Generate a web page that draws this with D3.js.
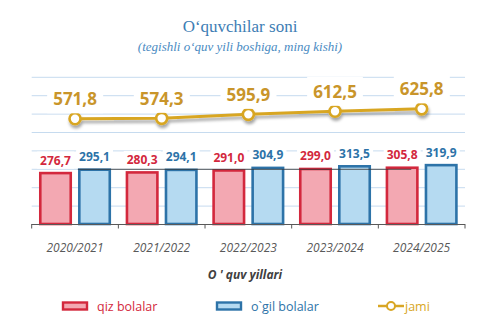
<!DOCTYPE html>
<html>
<head>
<meta charset="utf-8">
<script src="https://cdn.jsdelivr.net/npm/d3@7"></script>
<style>
  html, body { margin: 0; padding: 0; background: #fff; }
  svg { display: block; }
</style>
</head>
<body>
<script>
// School years and pupil counts (thousand people, at the start of the year)
const years = ["2020/2021", "2021/2022", "2022/2023", "2023/2024", "2024/2025"];
const girls = [276.7, 280.3, 291.0, 299.0, 305.8];
const boys = [295.1, 294.1, 304.9, 313.5, 319.9];
const total = [571.8, 574.3, 595.9, 612.5, 625.8];
const gridValues = [100, 200, 300, 400, 500, 600, 700, 800];

const W = 495, H = 330;
const red = "#d3283d", redFill = "#f3a8b2";
const blue = "#2d73a8", blueFill = "#b5daf1";
const gold = "#d8a624", goldText = "#c9952a";
const fmt = v => v.toFixed(1).replace(".", ",");

const svg = d3.select("body").append("svg").attr("width", W).attr("height", H);

const defs = svg.append("defs");
const shadow = defs.append("filter").attr("id", "lineShadow")
  .attr("x", "-10%").attr("y", "-50%").attr("width", "120%").attr("height", "200%");
shadow.append("feDropShadow").attr("dx", 1).attr("dy", 3)
  .attr("stdDeviation", 1.8).attr("flood-color", "#000").attr("flood-opacity", 0.35);

const x = d3.scaleBand().domain(years).range([31.7, 465]).paddingInner(0).paddingOuter(0);
const sub = d3.scaleBand().domain(["girls", "boys"]).range([0, x.bandwidth()])
  .paddingInner(0.22).paddingOuter(0.22);
const y = d3.scaleLinear().domain([0, 800]).range([224, 76.8]);

// Title
svg.append("text").attr("x", 240).attr("y", 32).attr("text-anchor", "middle")
  .attr("font-family", "'Liberation Serif', 'Times New Roman', serif")
  .attr("font-size", 17).attr("fill", "#3d7db4").text("O‘quvchilar soni");
svg.append("text").attr("x", 240).attr("y", 51).attr("text-anchor", "middle")
  .attr("font-family", "'Liberation Serif', 'Times New Roman', serif")
  .attr("font-style", "italic").attr("font-size", 13).attr("fill", "#4a8bc2")
  .text("(tegishli o‘quv yili boshiga, ming kishi)");

// Gridlines
svg.append("g").selectAll("line").data(gridValues).join("line")
  .attr("x1", x.range()[0]).attr("x2", x.range()[1])
  .attr("y1", d => y(d) + 0.5).attr("y2", d => y(d) + 0.5)
  .attr("stroke", "#c6dbef").attr("stroke-width", 1);

// Bars
const groups = svg.append("g").selectAll("g").data(years).join("g")
  .attr("transform", d => `translate(${x(d)},0)`);
groups.append("rect")
  .attr("x", sub("girls")).attr("width", sub.bandwidth())
  .attr("y", (d, i) => y(girls[i])).attr("height", (d, i) => y(0) - y(girls[i]))
  .attr("fill", redFill).attr("stroke", red).attr("stroke-width", 2.6);
groups.append("rect")
  .attr("x", sub("boys")).attr("width", sub.bandwidth())
  .attr("y", (d, i) => y(boys[i])).attr("height", (d, i) => y(0) - y(boys[i]))
  .attr("fill", blueFill).attr("stroke", blue).attr("stroke-width", 2.6);

// Dark rule across the bar tops at 300
svg.append("line")
  .attr("x1", x(years[0]) + sub("boys") - 1.5).attr("x2", x(years[4]) + sub("girls") + sub.bandwidth() * 0.8)
  .attr("y1", y(300) + 0.5).attr("y2", y(300) + 0.5)
  .attr("stroke", "#333").attr("stroke-width", 0.8);

// Value labels helper with white backing
function label(g, cx, cy, text, size, color, padX, padY) {
  const t = g.append("text").attr("x", cx).attr("y", cy).attr("text-anchor", "middle")
    .attr("dominant-baseline", "central")
    .attr("font-family", "'Open Sans', sans-serif").attr("font-weight", "bold")
    .attr("font-size", size).attr("fill", color).text(text);
  const bb = t.node().getBBox();
  g.insert("rect", "text").attr("x", bb.x - padX).attr("y", bb.y - padY)
    .attr("width", bb.width + 2 * padX).attr("height", bb.height + 2 * padY).attr("fill", "#fff");
}

const barLabels = svg.append("g");
years.forEach((yr, i) => {
  const gl = barLabels.append("g");
  label(gl, x(yr) + sub("girls") + sub.bandwidth() / 2, y(girls[i]) - 13, fmt(girls[i]), 12, red, 3, 0);
  const bl = barLabels.append("g");
  label(bl, x(yr) + sub("boys") + sub.bandwidth() / 2, y(boys[i]) - 13, fmt(boys[i]), 12, blue, 3, 0);
});

// Axis baseline with category ticks
const axis = svg.append("g");
axis.append("line").attr("x1", x.range()[0]).attr("x2", x.range()[1])
  .attr("y1", y(0) + 0.5).attr("y2", y(0) + 0.5).attr("stroke", "#595959").attr("stroke-width", 1);
const bounds = years.map(d => x(d)).concat([x.range()[1]]);
axis.selectAll("line.tick").data(bounds).join("line").attr("class", "tick")
  .attr("x1", d => d).attr("x2", d => d).attr("y1", y(0)).attr("y2", y(0) + 4.5)
  .attr("stroke", "#595959").attr("stroke-width", 1);
axis.selectAll("text").data(years).join("text")
  .attr("x", d => x(d) + x.bandwidth() / 2).attr("y", 251.5).attr("text-anchor", "middle")
  .attr("font-family", "'Open Sans', sans-serif").attr("font-style", "italic")
  .attr("font-size", 12).attr("fill", "#595959").text(d => d);
svg.append("text").attr("x", 245).attr("y", 279).attr("text-anchor", "middle")
  .attr("font-family", "'Open Sans', sans-serif").attr("font-style", "italic").attr("font-weight", "bold")
  .attr("font-size", 12).attr("fill", "#404040").text("O ' quv yillari");

// Total line
const cx = d => x(d) + x.bandwidth() / 2;
const lineG = svg.append("g").attr("filter", "url(#lineShadow)");
lineG.append("path").datum(years)
  .attr("d", d3.line().x(cx).y((d, i) => y(total[i])))
  .attr("fill", "none").attr("stroke", gold).attr("stroke-width", 3);
lineG.selectAll("circle").data(years).join("circle")
  .attr("cx", cx).attr("cy", (d, i) => y(total[i])).attr("r", 5.5)
  .attr("fill", "#fff").attr("stroke", gold).attr("stroke-width", 2.6);

const totLabels = svg.append("g");
years.forEach((yr, i) => {
  label(totLabels.append("g"), cx(yr), y(total[i]) - 20, fmt(total[i]), 17, goldText, 6, 3);
});

// Legend
const leg = svg.append("g").attr("font-family", "'Open Sans', sans-serif").attr("font-size", 12.5);
leg.append("rect").attr("x", 63).attr("y", 302.5).attr("width", 24).attr("height", 7)
  .attr("fill", redFill).attr("stroke", red).attr("stroke-width", 2.4);
leg.append("text").attr("x", 97).attr("y", 311).attr("fill", red).text("qiz bolalar");
leg.append("rect").attr("x", 217).attr("y", 302.5).attr("width", 24).attr("height", 7)
  .attr("fill", blueFill).attr("stroke", blue).attr("stroke-width", 2.4);
leg.append("text").attr("x", 251).attr("y", 311).attr("fill", blue).text("o`gil bolalar");
leg.append("line").attr("x1", 378).attr("x2", 404).attr("y1", 306).attr("y2", 306)
  .attr("stroke", gold).attr("stroke-width", 2.5);
leg.append("circle").attr("cx", 391).attr("cy", 306).attr("r", 4)
  .attr("fill", "#fff").attr("stroke", gold).attr("stroke-width", 2);
leg.append("text").attr("x", 405).attr("y", 311).attr("fill", gold).text("jami");
</script>
</body>
</html>
